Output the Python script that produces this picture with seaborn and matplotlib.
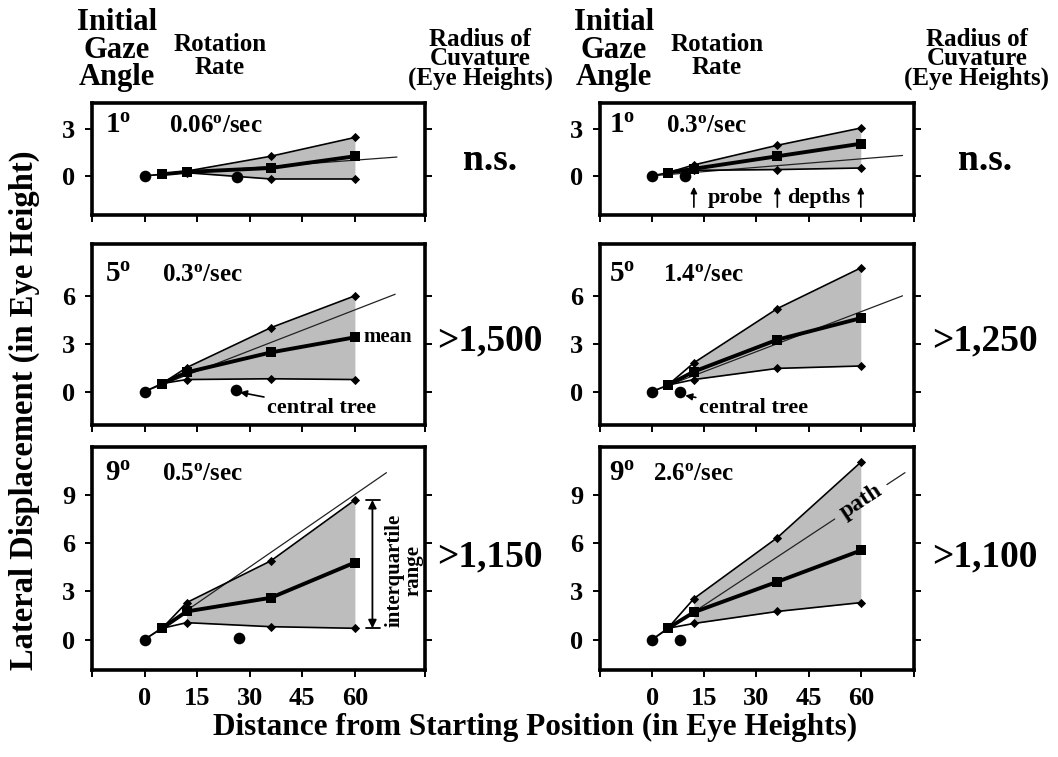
import numpy as np
import pandas as pd
import matplotlib
matplotlib.use("Agg")
import matplotlib.pyplot as plt
import seaborn as sns

sns.set_theme(style="ticks")
plt.rcParams["font.family"] = ["Liberation Serif", "DejaVu Serif"]
plt.rcParams["font.weight"] = "bold"
plt.rcParams["mathtext.fontset"] = "custom"
plt.rcParams["mathtext.rm"] = "Liberation Serif:bold"
plt.rcParams["mathtext.bf"] = "Liberation Serif:bold"
plt.rcParams["mathtext.it"] = "Liberation Serif:bold"
plt.rcParams["axes.edgecolor"] = "black"
plt.rcParams["text.color"] = "black"
plt.rcParams["axes.labelcolor"] = "black"
plt.rcParams["xtick.color"] = "black"
plt.rcParams["ytick.color"] = "black"

# ---------------- data (panel order: L1, L5, L9, R1, R5, R9) ----------------
gaze_labels = ["1", "5", "9", "1", "5", "9"]
rate_labels = ["0.06", "0.3", "0.5", "0.3", "1.4", "2.6"]
radius_left = ["n.s.", ">1,500", ">1,150"]
radius_right = ["n.s.", ">1,250", ">1,100"]
probe_x = [12, 36, 60]
square_x = [5, 5, 5, 4.5, 4.5, 4.5]
square_y = [0.1, 0.5, 0.7, 0.2, 0.4, 0.7]
upper = [[0.3, 1.25, 2.45], [1.5, 4.0, 6.0], [2.3, 4.9, 8.7],
         [0.7, 1.95, 3.05], [1.8, 5.2, 7.75], [2.55, 6.35, 11.05]]
mean = [[0.25, 0.5, 1.25], [1.2, 2.45, 3.4], [1.75, 2.6, 4.8],
        [0.45, 1.25, 2.05], [1.25, 3.25, 4.6], [1.7, 3.6, 5.55]]
lower = [[0.2, -0.2, -0.2], [0.75, 0.8, 0.75], [1.05, 0.8, 0.7],
         [0.35, 0.4, 0.5], [0.75, 1.45, 1.6], [1.0, 1.75, 2.3]]
tree_x = [26.5, 26, 27, 9.5, 8, 8]
tree_y = [-0.05, 0.1, 0.1, 0.0, 0.0, 0.0]
path_end_x = [72, 71.5, 69, 72, 72, 72.7]
path_end_y = [1.2, 6.1, 10.4, 1.3, 6.0, 10.4]
x_ticklabels = ["0", "15", "30", "45", "60"]
row_yticks = [[0, 3], [0, 3, 6], [0, 3, 6, 9]]

# ---------------- layout ----------------
W, H = 1058, 757
fig = plt.figure(figsize=(W / 100, H / 100), dpi=100)
col_px = [(92, 425), (600, 914)]
row_px = [(103, 215), (244, 425), (447, 670)]
col_xlim = [(-14.6, 80), (-14.9, 75.3)]
row_ylim = [(-2.5, 4.65), (-2.1, 9.25), (-1.9, 12.0)]
fill_c = "#bdbdbd"
path_label_x = 60.0
path_gap = (52.5, 67.5)

axes = []
for c in range(2):
    for r in range(3):
        x0, x1 = col_px[c]
        y0, y1 = row_px[r]
        ax = fig.add_axes([x0 / W, 1 - y1 / H, (x1 - x0) / W, (y1 - y0) / H])
        axes.append((ax, r, c))

for i, (ax, r, c) in enumerate(axes):
    sx, sy = square_x[i], square_y[i]
    up = np.array(upper[i]); mn = np.array(mean[i]); lo = np.array(lower[i])
    slope = path_end_y[i] / path_end_x[i]
    # shaded interquartile region
    ax.fill_between(probe_x, lo, up, color=fill_c, lw=0, zorder=1)
    # path line (with a gap for the label in the last panel)
    if i == 5:
        segs = [(0, path_gap[0]), (path_gap[1], path_end_x[i])]
    else:
        segs = [(0, path_end_x[i])]
    for a, b in segs:
        sns.lineplot(x=[a, b], y=[a * slope, b * slope], ax=ax,
                     color="#222222", lw=0.9, zorder=2, sort=False)
    # start -> square
    sns.lineplot(x=[0, sx], y=[0, sy], ax=ax, color="black", lw=1.2, zorder=3, sort=False)
    # upper / lower
    for arr in (up, lo):
        d = pd.DataFrame({"x": [sx] + probe_x, "y": [sy] + list(arr)})
        sns.lineplot(data=d, x="x", y="y", ax=ax, color="black", lw=1.2, zorder=3, sort=False)
        sns.scatterplot(x=probe_x, y=arr, ax=ax, marker="D", s=22, color="black",
                        edgecolor="black", linewidth=0, zorder=4)
    # mean
    d = pd.DataFrame({"x": [sx] + probe_x, "y": [sy] + list(mn)})
    sns.lineplot(data=d, x="x", y="y", ax=ax, color="black", lw=2.8, zorder=5, sort=False)
    sns.scatterplot(data=d, x="x", y="y", ax=ax, marker="s", s=55, color="black",
                    edgecolor="black", linewidth=0, zorder=6)
    # start point and central tree
    sns.scatterplot(x=[0, tree_x[i]], y=[0, tree_y[i]], ax=ax, marker="o", s=70,
                    color="black", edgecolor="black", linewidth=0, zorder=6)

    xl = col_xlim[c]; yl = row_ylim[r]
    ax.set_xlim(*xl); ax.set_ylim(*yl)
    ax.set_xticks([-15, 0, 15, 30, 45, 60, xl[1]])
    if r == 2:
        ax.set_xticklabels([""] + x_ticklabels + [""])
    else:
        ax.set_xticklabels([])
    ax.set_yticks(row_yticks[r])
    ax.set_yticklabels([str(v) for v in row_yticks[r]])
    ax.tick_params(axis="both", direction="out", length=5, width=1.4,
                   labelsize=19, pad=7, colors="black")
    ax.tick_params(axis="y", right=True, labelright=False)
    for lab in ax.get_xticklabels() + ax.get_yticklabels():
        lab.set_fontweight("bold")
    for sp in ax.spines.values():
        sp.set_visible(True)
        sp.set_linewidth(2.6)
        sp.set_color("black")
    ax.set_xlabel(""); ax.set_ylabel("")
    ax.grid(False)

    gx = 0.04 if c == 0 else 0.03
    rx = [0.23, 0.21, 0.21][r] if c == 0 else [0.21, 0.2, 0.17][r]
    ty = [0.8, 0.83, 0.88][r]
    ax.text(gx, ty, gaze_labels[i] + r"$^{\mathrm{o}}$", transform=ax.transAxes,
            fontsize=21, fontweight="bold", ha="left", va="center")
    ax.text(rx, ty, rate_labels[i] + r"$^{\mathrm{o}}$/sec", transform=ax.transAxes,
            fontsize=18, fontweight="bold", ha="left", va="center")

# ---- panel annotations ----
axL5 = axes[1][0]
axL5.text(62.5, mean[1][2], "mean", fontsize=15, fontweight="bold", ha="left", va="center")
axL5.annotate("central tree", xy=(tree_x[1] + 1.2, tree_y[1] - 0.15), xytext=(35, -1.05),
              fontsize=16, fontweight="bold", ha="left", va="center",
              arrowprops=dict(arrowstyle="-|>", color="black", lw=1.2, mutation_scale=10,
                              shrinkA=0, shrinkB=0))
axR5 = axes[4][0]
axR5.annotate("central tree", xy=(tree_x[4] + 1.5, tree_y[4] - 0.25), xytext=(13.5, -1.05),
              fontsize=16, fontweight="bold", ha="left", va="center",
              arrowprops=dict(arrowstyle="-|>", color="black", lw=1.2, mutation_scale=10,
                              shrinkA=0, shrinkB=0))

axR1 = axes[3][0]
for px in probe_x:
    axR1.annotate("", xy=(px, -0.7), xytext=(px, -2.0),
                  arrowprops=dict(arrowstyle="-|>", color="black", lw=1.2,
                                  mutation_scale=9, shrinkA=0, shrinkB=0))
axR1.text(24, -1.4, "probe", fontsize=16, fontweight="bold", ha="center", va="center")
axR1.text(48, -1.4, "depths", fontsize=16, fontweight="bold", ha="center", va="center")

axL9 = axes[2][0]
axL9.annotate("", xy=(65, upper[2][2]), xytext=(65, lower[2][2]),
              arrowprops=dict(arrowstyle="<|-|>", color="black", lw=1.3,
                              mutation_scale=12, shrinkA=0, shrinkB=0))
for yv in (upper[2][2], lower[2][2]):
    sns.lineplot(x=[63.3, 67.3], y=[yv, yv], ax=axL9, color="black", lw=1.3)
axL9.text(74, 4.3, "interquartile\nrange", rotation=90, fontsize=15, fontweight="bold",
          ha="center", va="center", multialignment="center", linespacing=0.9)

axR9 = axes[5][0]
ang = np.degrees(np.arctan2(path_end_y[5], path_end_x[5]))
axR9.text(path_label_x, path_end_y[5] / path_end_x[5] * path_label_x, "path",
          rotation=ang, transform_rotates_text=True, rotation_mode="anchor",
          fontsize=17, fontweight="bold", ha="center", va="center", zorder=3)

# ---- figure-level texts ----
hdr = dict(fontweight="bold", ha="center", va="center")
for off in (0, 497):
    fig.text((117 + off) / W, 1 - 50 / H, "Initial\nGaze\nAngle", fontsize=22,
             linespacing=0.92, **hdr)
    fig.text((220 + off) / W, 1 - 56 / H, "Rotation\nRate", fontsize=18,
             linespacing=0.95, **hdr)
    fig.text((480 + off) / W, 1 - 59 / H, "Radius of\nCuvature\n(Eye Heights)",
             fontsize=18, linespacing=0.82, **hdr)

for r in range(3):
    yc = [160, 341, 557][r]
    fig.text(490 / W, 1 - yc / H, radius_left[r], fontsize=27, **hdr)
    fig.text(985 / W, 1 - yc / H, radius_right[r], fontsize=27, **hdr)

fig.text(535 / W, 1 - 727 / H, "Distance from Starting Position (in Eye Heights)",
         fontsize=22.5, **hdr)
fig.text(24 / W, 1 - 410 / H, "Lateral Displacement (in Eye Height)", fontsize=23.5,
         rotation=90, **hdr)

fig.savefig("out.png", dpi=100, facecolor="white")
